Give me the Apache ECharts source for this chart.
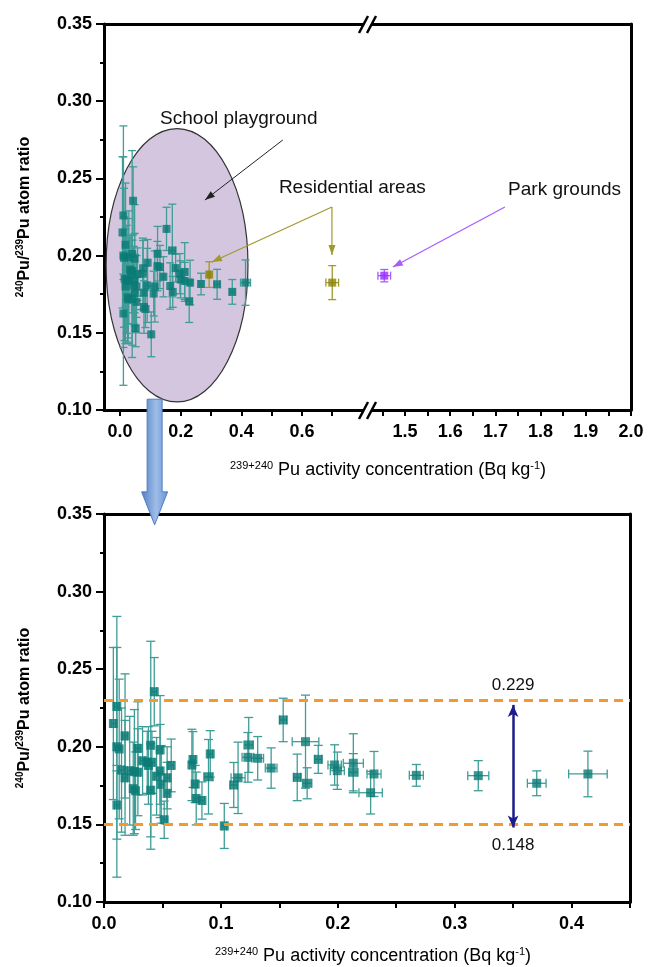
<!DOCTYPE html>
<html><head><meta charset="utf-8">
<script src="https://cdn.jsdelivr.net/npm/echarts@6/dist/echarts.min.js"></script>
<style>html,body{margin:0;padding:0;background:#fff}#c{width:648px;height:967px}</style>
</head><body><div id="c"></div>
<script>
// ---------------- DATA ----------------
// School playground samples (x: activity Bq/kg, y: 240Pu/239Pu atom ratio)
const schoolX = [0.008,0.011,0.011,0.013,0.011,0.015,0.018,0.018,0.022,0.026,0.029,0.025,0.027,0.029,0.033,0.037,0.040,0.038,0.040,0.043,0.041,0.045,0.048,0.048,0.049,0.054,0.0575,0.054,0.0515,
  0.0752,0.0761,0.078,0.0789,0.0838,0.0894,0.0909,0.1029,0.111,0.1147,0.1238,0.1231,0.1315,0.143,0.1533,0.1724,0.1653,0.1738,0.1833,0.1973,0.1996,0.2133,0.2133,0.231,0.2281,0.2672,0.3202,0.3702,0.414];
const schoolY = [0.215,0.226,0.200,0.1986,0.1625,0.185,0.207,0.180,0.1846,0.184,0.1836,0.173,0.1717,0.199,0.191,0.190,0.201,0.188,0.172,0.2355,0.190,0.181,0.198,0.1844,0.1758,0.180,0.188,0.170,0.153,
  0.1883,0.1918,0.176,0.1667,0.1654,0.1807,0.1954,0.149,0.1754,0.180,0.2012,0.1932,0.1926,0.1863,0.2173,0.2033,0.1803,0.1765,0.1919,0.1883,0.1846,0.1894,0.1836,0.1825,0.1704,0.1816,0.1814,0.1765,0.1825];
const schoolXErr = [0.002,0.002,0.002,0.002,0.002,0.002,0.002,0.002,0.002,0.002,0.002,0.002,0.002,0.002,0.002,0.002,0.002,0.002,0.002,0.002,0.002,0.002,0.002,0.002,0.002,0.002,0.002,0.002,0.002,
  0.002,0.002,0.002,0.002,0.002,0.004,0.002,0.002,0.003,0.006,0.004,0.005,0.005,0.005,0.003,0.0114,0.003,0.004,0.003,0.0057,0.006,0.0086,0.004,0.006,0.010,0.006,0.009,0.008,0.0165];
const schoolYErr = [0.049,0.038,0.084,0.045,0.022,0.040,0.040,0.037,0.035,0.040,0.028,0.030,0.025,0.030,0.022,0.020,0.067,0.025,0.030,0.022,0.020,0.025,0.035,0.030,0.025,0.020,0.017,0.020,0.012,
  0.023,0.018,0.012,0.017,0.012,0.024,0.015,0.0145,0.0145,0.023,0.0177,0.016,0.014,0.013,0.014,0.030,0.015,0.010,0.009,0.013,0.012,0.019,0.012,0.0145,0.0137,0.007,0.0097,0.008,0.0147];

// Residential areas
const residentialX = [0.294, 0.70];
const residentialY = [0.1877, 0.1825];
const residentialXErr = [0.004, 0.021];
const residentialYErr = [0.0083, 0.011];

// Park grounds
const parkX = [1.454];
const parkY = [0.187];
const parkXErr = [0.014];
const parkYErr = [0.004];

// Tick labels
const yTickLabels = [0.10, 0.15, 0.20, 0.25, 0.30, 0.35];
const topLeftXLabels = [0.0, 0.2, 0.4, 0.6];
const topLeftXTicks = [0.0, 0.1, 0.2, 0.3, 0.4, 0.5, 0.6, 0.7, 0.8];
const topRightXLabels = [1.5, 1.6, 1.7, 1.8, 1.9, 2.0];
const topRightXTicks = [1.45, 1.5, 1.55, 1.6, 1.65, 1.7, 1.75, 1.8, 1.85, 1.9, 1.95, 2.0];
const bottomXLabels = [0.0, 0.1, 0.2, 0.3, 0.4];
const bottomXTicks = [0.0, 0.05, 0.1, 0.15, 0.2, 0.25, 0.3, 0.35, 0.4, 0.45];

// Range lines in lower panel
const bandUpper = 0.227, bandLower = 0.148;
const bandLabels = ['0.229', '0.148'];
const bandArrowX = 0.35;

// ---------------- STYLE ----------------
const FONT = "'Liberation Sans', Arial, Helvetica, sans-serif";
const TEAL = '#0b7a75', TEAL_ERR = '#3f9d97';
const OLIVE = '#8a8300', OLIVE_ERR = '#a09a2a';
const PURPLE = '#9a2cff', PURPLE_ERR = '#a65cff';

function rows(xs, ys, exs, eys) { return xs.map((x, i) => [x, ys[i], exs[i], eys[i]]); }
const schoolRows = rows(schoolX, schoolY, schoolXErr, schoolYErr);
const residentialRows = rows(residentialX, residentialY, residentialXErr, residentialYErr);
const parkRows = rows(parkX, parkY, parkXErr, parkYErr);

function errRender(color, cap) {
  return function (params, api) {
    const x = api.value(0), y = api.value(1), ex = api.value(2), ey = api.value(3);
    const t = api.coord([x, y + ey]), b = api.coord([x, y - ey]);
    const l = api.coord([x - ex, y]), r = api.coord([x + ex, y]);
    const style = { stroke: color, lineWidth: 1.3 };
    return { type: 'group', children: [
      { type: 'line', shape: { x1: t[0], y1: t[1], x2: b[0], y2: b[1] }, style },
      { type: 'line', shape: { x1: t[0] - cap, y1: t[1], x2: t[0] + cap, y2: t[1] }, style },
      { type: 'line', shape: { x1: b[0] - cap, y1: b[1], x2: b[0] + cap, y2: b[1] }, style },
      { type: 'line', shape: { x1: l[0], y1: l[1], x2: r[0], y2: r[1] }, style },
      { type: 'line', shape: { x1: l[0], y1: l[1] - cap, x2: l[0], y2: l[1] + cap }, style },
      { type: 'line', shape: { x1: r[0], y1: r[1] - cap, x2: r[0], y2: r[1] + cap }, style }
    ]};
  };
}

const AXIS_LINE = { show: true, onZero: false, lineStyle: { color: '#000', width: 3 } };
const LABEL = { color: '#000', fontSize: 18, fontWeight: 'bold', fontFamily: FONT };

function yAxisLeft(gridIndex) {
  return {
    type: 'value', gridIndex, min: 0.10, max: 0.35, interval: 0.05, position: 'left',
    axisLine: AXIS_LINE,
    axisTick: { show: true, length: 8, lineStyle: { color: '#000', width: 2 } },
    minorTick: { show: true, splitNumber: 2, length: 4, lineStyle: { color: '#000', width: 2 } },
    axisLabel: Object.assign({ margin: 12, formatter: v => v.toFixed(2) }, LABEL),
    splitLine: { show: false }, minorSplitLine: { show: false }
  };
}
function lineOnlyAxis(type, gridIndex, position, min, max) {
  return {
    type: 'value', gridIndex, position, min, max,
    axisLine: AXIS_LINE, axisTick: { show: false }, axisLabel: { show: false }, splitLine: { show: false }
  };
}
function xAxisBottom(gridIndex, min, max, ticks, labels) {
  return {
    type: 'value', gridIndex, position: 'bottom', min, max,
    axisLine: AXIS_LINE,
    axisTick: { show: true, length: 6, customValues: ticks, lineStyle: { color: '#000', width: 2 } },
    axisLabel: Object.assign({ margin: 13, customValues: labels, formatter: v => v.toFixed(1) }, LABEL),
    splitLine: { show: false }
  };
}

const option = {
  animation: false,
  backgroundColor: '#fff',
  grid: [
    { left: 104, top: 24, width: 264, height: 386 },
    { left: 368, top: 24, width: 263, height: 386 },
    { left: 104, top: 514, width: 526, height: 388 }
  ],
  xAxis: [
    xAxisBottom(0, -0.053, 0.818, topLeftXTicks, topLeftXLabels),
    lineOnlyAxis('x', 0, 'top', -0.053, 0.818),
    xAxisBottom(1, 1.418, 2.0, topRightXTicks, topRightXLabels),
    lineOnlyAxis('x', 1, 'top', 1.418, 2.0),
    xAxisBottom(2, 0, 0.45, bottomXTicks, bottomXLabels),
    lineOnlyAxis('x', 2, 'top', 0, 0.45)
  ],
  yAxis: [
    yAxisLeft(0),
    lineOnlyAxis('y', 1, 'right', 0.10, 0.35),
    yAxisLeft(2),
    lineOnlyAxis('y', 2, 'right', 0.10, 0.35)
  ],
  series: [
    { type: 'custom', xAxisIndex: 0, yAxisIndex: 0, data: schoolRows, encode: { x: 0, y: 1 }, renderItem: errRender(TEAL_ERR, 4), z: 3, clip: true },
    { type: 'scatter', xAxisIndex: 0, yAxisIndex: 0, data: schoolRows, encode: { x: 0, y: 1 }, symbol: 'rect', symbolSize: 8, itemStyle: { color: TEAL }, z: 4 },
    { type: 'custom', xAxisIndex: 0, yAxisIndex: 0, data: residentialRows, encode: { x: 0, y: 1 }, renderItem: errRender(OLIVE_ERR, 4), z: 3 },
    { type: 'scatter', xAxisIndex: 0, yAxisIndex: 0, data: residentialRows, encode: { x: 0, y: 1 }, symbol: 'rect', symbolSize: 8, itemStyle: { color: OLIVE }, z: 4 },
    { type: 'custom', xAxisIndex: 2, yAxisIndex: 1, data: parkRows, encode: { x: 0, y: 1 }, renderItem: errRender(PURPLE_ERR, 4), z: 3 },
    { type: 'scatter', xAxisIndex: 2, yAxisIndex: 1, data: parkRows, encode: { x: 0, y: 1 }, symbol: 'rect', symbolSize: 8, itemStyle: { color: PURPLE }, z: 4 },
    { type: 'custom', xAxisIndex: 4, yAxisIndex: 2, data: schoolRows, encode: { x: 0, y: 1 }, renderItem: errRender(TEAL_ERR, 4.5), z: 3, clip: true },
    { type: 'scatter', xAxisIndex: 4, yAxisIndex: 2, data: schoolRows, encode: { x: 0, y: 1 }, symbol: 'rect', symbolSize: 9, itemStyle: { color: TEAL }, z: 4,
      markLine: {
        silent: true, animation: false, symbol: ['none', 'none'],
        label: { show: false },
        lineStyle: { color: '#f29a2e', width: 3, type: [9, 6] },
        data: [
          { yAxis: bandUpper },
          { yAxis: bandLower },
          [
            { coord: [bandArrowX, bandUpper], symbol: 'arrow', symbolSize: [8, 12], lineStyle: { color: '#1c1c8a', width: 2.5, type: 'solid' } },
            { coord: [bandArrowX, bandLower], symbol: 'arrow', symbolSize: [8, 12] }
          ]
        ]
      }
    }
  ]
};

const chart = echarts.init(document.getElementById('c'));
chart.setOption(option);

// ---------------- ANNOTATIONS ----------------
function P(g, x, y) { return chart.convertToPixel({ gridIndex: g }, [x, y]); }
function head(p1, p2, len, w, color) {
  const a = Math.atan2(p2[1] - p1[1], p2[0] - p1[0]);
  const bx = p2[0] - len * Math.cos(a), by = p2[1] - len * Math.sin(a);
  const nx = -Math.sin(a) * w, ny = Math.cos(a) * w;
  return { type: 'polygon', z: 20, shape: { points: [[p2[0], p2[1]], [bx + nx, by + ny], [bx - nx, by - ny]] }, style: { fill: color } };
}
function seg(p1, p2, color, w) {
  return { type: 'line', z: 20, shape: { x1: p1[0], y1: p1[1], x2: p2[0], y2: p2[1] }, style: { stroke: color, lineWidth: w } };
}
function label(p, text, opts) {
  return { type: 'text', z: 20, x: p[0], y: p[1], style: Object.assign({ text, fill: '#111', fontSize: 19, fontFamily: FONT, align: 'left', verticalAlign: 'middle' }, opts || {}) };
}

const g = [];
// ellipse
const e1 = P(0, -0.046, 0.2823), e2 = P(0, 0.422, 0.1052);
g.push({ type: 'ellipse', z: 1, shape: { cx: (e1[0] + e2[0]) / 2, cy: (e1[1] + e2[1]) / 2, rx: (e2[0] - e1[0]) / 2, ry: (e2[1] - e1[1]) / 2 },
  style: { fill: '#d3c6de', stroke: '#333', lineWidth: 1.2 } });
// School playground
g.push(label(P(0, 0.132, 0.2885), 'School playground'));
const ba1 = P(0, 0.537, 0.2749), ba2 = P(0, 0.280, 0.236);
g.push(seg(ba1, ba2, '#222', 1));
g.push(head(ba1, ba2, 10, 3.5, '#222'));
// Residential areas
g.push(label(P(0, 0.524, 0.2438), 'Residential areas'));
const ra = P(0, 0.303, 0.1959), rc = P(0, 0.699, 0.2315), rb = P(0, 0.699, 0.2004);
g.push(seg(rc, ra, OLIVE_ERR, 1.2));
g.push(seg(rc, rb, OLIVE_ERR, 1.2));
g.push(head(rc, ra, 10, 3.5, OLIVE_ERR));
g.push(head(rc, rb, 10, 3.5, OLIVE_ERR));
// Park grounds
g.push(label(P(1, 1.728, 0.2425), 'Park grounds'));
const pa1 = P(1, 1.721, 0.2315), pa2 = P(1, 1.473, 0.1926);
g.push(seg(pa1, pa2, PURPLE_ERR, 1.2));
g.push(head(pa1, pa2, 10, 3.5, PURPLE_ERR));

// axis break marks
const bx = P(0, 0.818, 0.35)[0];
[P(0, 0, 0.35)[1], P(0, 0, 0.10)[1]].forEach(yy => {
  g.push({ type: 'polygon', z: 30, shape: { points: [[bx - 8, yy + 9], [bx + 1, yy - 8], [bx + 8, yy - 8], [bx - 1, yy + 9]] }, style: { fill: '#fff' } });
  g.push({ type: 'line', z: 31, shape: { x1: bx - 9, y1: yy + 9, x2: bx, y2: yy - 8 }, style: { stroke: '#000', lineWidth: 2.5 } });
  g.push({ type: 'line', z: 31, shape: { x1: bx - 1, y1: yy + 9, x2: bx + 8, y2: yy - 8 }, style: { stroke: '#000', lineWidth: 2.5 } });
});

// big blue arrow linking panels
const at = P(0, 0.114, 0.107), tip = P(2, 0.0433, 0.343);
const cx = tip[0], headBase = tip[1] - 33;
g.push({ type: 'polygon', z: 40, shape: { points: [
    [cx - 7.5, at[1]], [cx + 7.5, at[1]], [cx + 7.5, headBase], [cx + 13, headBase], [cx, tip[1]], [cx - 13, headBase], [cx - 7.5, headBase]] },
  style: { stroke: '#4f7ec4', lineWidth: 1,
    fill: { type: 'linear', x: 0, y: 0, x2: 1, y2: 0, colorStops: [{ offset: 0, color: '#4f7ec4' }, { offset: 0.55, color: '#9fbde8' }, { offset: 1, color: '#6a93d2' }] } } });

// band labels
g.push(label(P(2, bandArrowX, 0.2398), bandLabels[0], { align: 'center', fontSize: 17 }));
g.push(label(P(2, bandArrowX, 0.1367), bandLabels[1], { align: 'center', fontSize: 17 }));

// axis titles
const supRich = { sup: { fontSize: 11, fontFamily: FONT, verticalAlign: 'top', lineHeight: 20 } };
const xTitle = '{sup|239+240} Pu activity concentration (Bq kg{sup|-1})';
g.push({ type: 'text', z: 20, x: 388, y: 470, style: { text: xTitle, rich: supRich, fill: '#000', fontSize: 18, lineHeight: 20, fontFamily: FONT, align: 'center', verticalAlign: 'middle' } });
g.push({ type: 'text', z: 20, x: 373, y: 956, style: { text: xTitle, rich: supRich, fill: '#000', fontSize: 18, lineHeight: 20, fontFamily: FONT, align: 'center', verticalAlign: 'middle' } });
const yRich = { sup: { fontSize: 10, fontWeight: 'bold', fontFamily: FONT, verticalAlign: 'top', lineHeight: 19 } };
const yTitle = '{sup|240}Pu/{sup|239}Pu atom ratio';
[217, 708].forEach(yc => {
  g.push({ type: 'text', z: 20, x: 25, y: yc, rotation: Math.PI / 2, style: { text: yTitle, rich: yRich, fill: '#000', fontSize: 16, fontWeight: 'bold', lineHeight: 19, fontFamily: FONT, align: 'center', verticalAlign: 'middle' } });
});

chart.setOption({ graphic: g });
</script>
</body></html>
